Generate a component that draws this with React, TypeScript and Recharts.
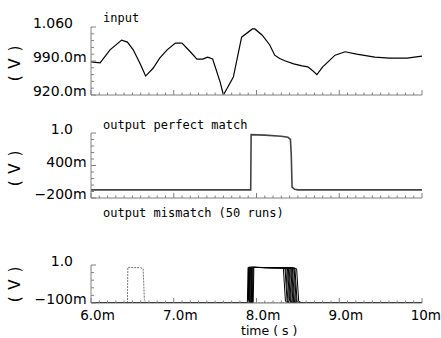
import { LineChart, Line, XAxis, YAxis } from 'recharts';

// time in ms
const inputTime = [6.0, 6.11, 6.23, 6.37, 6.44, 6.51, 6.59, 6.66, 6.75, 6.83, 6.92, 7.02, 7.1, 7.2, 7.28, 7.35, 7.41, 7.47, 7.56, 7.6, 7.72, 7.82, 7.95, 7.98, 8.07, 8.16, 8.22, 8.28, 8.35, 8.45, 8.55, 8.62, 8.68, 8.73, 8.8, 8.95, 9.07, 9.21, 9.43, 9.61, 9.82, 10.0];
const inputVolt = [0.988, 0.986, 1.013, 1.033, 1.029, 1.013, 0.986, 0.959, 0.975, 0.996, 1.013, 1.027, 1.027, 1.009, 0.994, 0.994, 0.998, 0.994, 0.947, 0.92, 0.957, 1.039, 1.056, 1.056, 1.043, 1.023, 1.002, 0.995, 0.99, 0.984, 0.98, 0.978, 0.97, 0.962, 0.978, 1.002, 1.009, 1.004, 0.998, 0.996, 0.996, 1.0];

const perfectTime = [6.0, 7.93, 7.935, 8.1, 8.3, 8.38, 8.41, 8.42, 8.43, 8.46, 8.5, 10.0];
const perfectVolt = [-0.05, -0.05, 0.97, 0.96, 0.94, 0.92, 0.88, 0.6, 0.0, -0.04, -0.05, -0.05];

const runRise = [7.89, 7.9, 7.9, 7.91, 7.91, 7.92, 7.92, 7.93, 7.93, 7.94, 7.94, 7.95, 7.95, 7.96, 7.9];
const runFall = [8.34, 8.36, 8.37, 8.38, 8.39, 8.4, 8.41, 8.42, 8.43, 8.44, 8.45, 8.46, 8.47, 8.48, 8.5];
const outlierTime = [6.0, 6.44, 6.445, 6.6, 6.63, 6.645, 6.66, 10.0];
const outlierVolt = [-0.09, -0.09, 0.93, 0.92, 0.89, 0.0, -0.09, -0.09];
const runLow = -0.09;
const runHigh = 0.93;

const xMajor = [6, 7, 8, 9, 10];
const xLabels = ['6.0', '7.0', '8.0', '9.0', '10'];
const xMinor = Array.from({ length: 41 }, (_, i) => Math.round((6 + i * 0.1) * 100) / 100);

const inY = Array.from({ length: 11 }, (_, i) => Math.round((0.92 + i * 0.014) * 1000) / 1000);
const inMajor = [0.92, 0.99, 1.06];
const inLabels = ['920.0', '990.0', '1.060'];
const inUnits = ['m', 'm', ''];

const pfY = Array.from({ length: 11 }, (_, i) => Math.round((-0.2 + i * 0.12) * 100) / 100);
const pfMajor = [-0.2, 0.4, 1.0];
const pfLabels = ['\u2212200', '400', '1.0'];
const pfUnits = ['m', 'm', ''];

const mmY = Array.from({ length: 6 }, (_, i) => Math.round((-0.1 + i * 0.22) * 100) / 100);
const mmMajor = [-0.1, 1.0];
const mmLabels = ['\u2212100', '1.0'];
const mmUnits = ['m', ''];

const W = 441;
const LEFT = 91;
const RIGHT = 19;
const AXIS = '#808080';
const FONT = '"DejaVu Sans", sans-serif';
const FS = 14;
const NUM_END = 73;

const charW: Record<string, number> = { '.': 0.318, '\u2212': 0.838, m: 0.974 };
const textW = (s: string, fs: number) => s.split('').reduce((a, c) => a + (charW[c] ?? 0.636), 0) * fs;

const toPts = (ts: number[], vs: number[]) => ts.map((t, i) => ({ t, v: vs[i] }));

const runs = runRise.map((r, i) => {
  const f = runFall[i];
  return toPts(
    [6, r, r + 0.008, f - 0.05, f - 0.015, f + 0.01, f + 0.04, 10],
    [runLow, runLow, runHigh, runHigh - 0.01, runHigh - 0.04, -0.05, runLow, runLow]
  );
});

const findIdx = (arr: number[], v: number) => arr.findIndex((a) => Math.abs(a - v) < 1e-6);

function XTick(props: any) {
  const { x, y, payload, labels } = props;
  const idx = findIdx(xMajor, payload.value);
  const major = idx >= 0;
  const fs = 13.5;
  const mx = Math.min(x + textW(xLabels[idx] ?? '', fs) / 2, W - textW('m', fs));
  return (
    <g>
      <line x1={x} x2={x} y1={y} y2={y - (major ? 5 : 2.5)} stroke={AXIS} />
      {labels && major && (
        <g fontSize={fs} fontFamily={FONT} fill="#000">
          <text x={mx} y={y + 17} textAnchor="end">{xLabels[idx]}</text>
          <text x={mx} y={y + 17} textAnchor="start">m</text>
        </g>
      )}
    </g>
  );
}

function YTick(props: any) {
  const { x, y, payload, major, labels, units } = props;
  const idx = findIdx(major, payload.value);
  const isMajor = idx >= 0;
  return (
    <g>
      <line x1={x} x2={x + (isMajor ? 5 : 3)} y1={y} y2={y} stroke={AXIS} />
      {isMajor && (
        <g fontSize={FS} fontFamily={FONT} fill="#000">
          <text x={NUM_END} y={y + 1} textAnchor="end">{labels[idx]}</text>
          {units[idx] && <text x={NUM_END} y={y + 1} textAnchor="start">{units[idx]}</text>}
        </g>
      )}
    </g>
  );
}

function Panel({ top, height, mTop, mBottom, domain, yTicks, yMajor, yLabels, yUnits, xLabelsOn, children }: any) {
  return (
    <div style={{ position: 'absolute', left: 0, top }}>
      <LineChart width={W} height={height} margin={{ top: mTop, bottom: mBottom, left: 0, right: RIGHT }}>
        <XAxis
          type="number"
          dataKey="t"
          domain={[6, 10]}
          allowDataOverflow
          ticks={xMinor}
          interval={0}
          height={1}
          tickSize={0}
          tickMargin={0}
          tickLine={false}
          axisLine={{ stroke: AXIS }}
          tick={(p: any) => <XTick {...p} labels={xLabelsOn} />}
        />
        <YAxis
          type="number"
          domain={domain}
          allowDataOverflow
          ticks={yTicks}
          interval={0}
          width={LEFT}
          tickSize={0}
          tickMargin={0}
          tickLine={false}
          axisLine={{ stroke: AXIS }}
          tick={(p: any) => <YTick {...p} major={yMajor} labels={yLabels} units={yUnits} />}
        />
        {children}
      </LineChart>
    </div>
  );
}

const textStyle: any = { position: 'absolute', fontFamily: '"DejaVu Sans Mono", monospace', fontSize: 12, color: '#000', whiteSpace: 'pre', lineHeight: '14px' };
const vStyle: any = { position: 'absolute', fontFamily: FONT, fontSize: 15, letterSpacing: 1, color: '#000', whiteSpace: 'pre', transform: 'rotate(-90deg)', transformOrigin: 'center', width: 50, textAlign: 'center', lineHeight: '16px' };

export default function App() {
  return (
    <div style={{ position: 'absolute', left: 0, top: 0, width: 441, height: 338, background: '#fff', overflow: 'hidden' }}>
      <Panel top={0} height={105} mTop={27} mBottom={9} domain={[0.92, 1.06]} yTicks={inY} yMajor={inMajor} yLabels={inLabels} yUnits={inUnits} xLabelsOn={false}>
        <Line data={toPts(inputTime, inputVolt)} dataKey="v" type="linear" stroke="#000" strokeWidth={1.2} dot={false} isAnimationActive={false} />
      </Panel>
      <Panel top={100} height={105} mTop={33} mBottom={6} domain={[-0.2, 1.0]} yTicks={pfY} yMajor={pfMajor} yLabels={pfLabels} yUnits={pfUnits} xLabelsOn={false}>
        <Line data={toPts(perfectTime, perfectVolt)} dataKey="v" type="linear" stroke="#444" strokeWidth={1.6} dot={false} isAnimationActive={false} />
      </Panel>
      <Panel top={205} height={133} mTop={60} mBottom={34} domain={[-0.1, 1.0]} yTicks={mmY} yMajor={mmMajor} yLabels={mmLabels} yUnits={mmUnits} xLabelsOn={true}>
        <Line data={toPts(outlierTime, outlierVolt)} dataKey="v" type="linear" stroke="#777" strokeWidth={1} strokeDasharray="2 1" dot={false} isAnimationActive={false} />
        {runs.map((d, i) => (
          <Line key={i} data={d} dataKey="v" type="linear" stroke={i % 4 === 3 ? '#555' : '#000'} strokeWidth={1} dot={false} isAnimationActive={false} />
        ))}
      </Panel>
      <div style={{ ...textStyle, left: 103, top: 11 }}>input</div>
      <div style={{ ...textStyle, left: 103, top: 118 }}>output perfect match</div>
      <div style={{ ...textStyle, left: 103, top: 206 }}>output mismatch (50 runs)</div>
      <div style={{ ...textStyle, left: 241, top: 324, fontSize: 12.5, lineHeight: '13px', fontFamily: FONT }}>time ( s )</div>
      <div style={{ ...vStyle, left: -10, top: 55 }}>( V )</div>
      <div style={{ ...vStyle, left: -10, top: 160 }}>( V )</div>
      <div style={{ ...vStyle, left: -10, top: 276 }}>( V )</div>
    </div>
  );
}
